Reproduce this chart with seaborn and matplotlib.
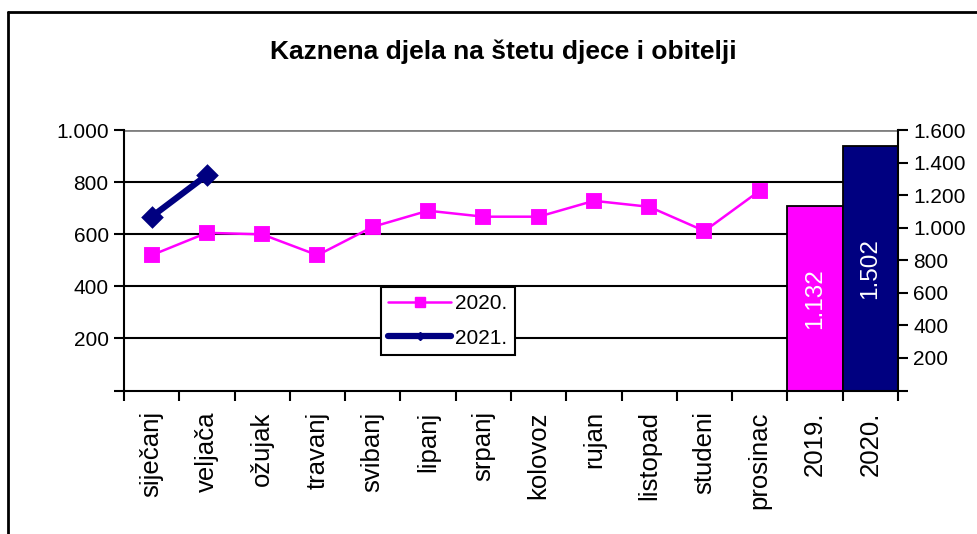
import matplotlib
matplotlib.use("Agg")
import matplotlib.pyplot as plt
import seaborn as sns
import pandas as pd
import numpy as np
from matplotlib.lines import Line2D
from matplotlib.ticker import FuncFormatter

categories = ["siječanj", "veljača", "ožujak", "travanj", "svibanj", "lipanj",
              "srpanj", "kolovoz", "rujan", "listopad", "studeni", "prosinac",
              "2019.", "2020."]
months_2020 = categories[:12]
values_2020 = [520, 606, 600, 520, 629, 691, 668, 668, 729, 706, 613, 768]
months_2021 = ["siječanj", "veljača"]
values_2021 = [668, 828]
bar_years = ["2019.", "2020."]
bar_values = [1132, 1502]
bar_labels = ["1.132", "1.502"]
left_ticks = [0, 200, 400, 600, 800, 1000]
right_ticks = [0, 200, 400, 600, 800, 1000, 1200, 1400, 1600]

PINK = "#FF00FF"
NAVY = "#000080"

sns.set_theme(style="white")
plt.rcParams['font.family'] = ['Liberation Sans', 'DejaVu Sans']
plt.rcParams['text.color'] = 'black'
plt.rcParams['xtick.color'] = 'black'
plt.rcParams['ytick.color'] = 'black'
plt.rcParams['axes.labelcolor'] = 'black'

W, H = 978, 534
fig = plt.figure(figsize=(W / 100, H / 100), dpi=100)
ax = fig.add_axes([124 / W, 1 - 390.5 / H, (898 - 124) / W, (390.5 - 130.3) / H])
ax2 = ax.twinx()

df20 = pd.DataFrame({"month": months_2020, "value": values_2020})
df21 = pd.DataFrame({"month": months_2021, "value": values_2021})
dfb = pd.DataFrame({"year": bar_years, "value": bar_values})

# bars on the secondary axis
sns.barplot(data=dfb, x="year", y="value", order=categories, hue="year",
            palette=[PINK, NAVY], saturation=1, width=1.0, edgecolor="black",
            linewidth=1.3, legend=False, ax=ax2)
for p, lab in zip([pp for pp in ax2.patches if pp.get_height() > 0], bar_labels):
    ax2.text(p.get_x() + p.get_width() / 2, p.get_height() / 2, lab,
             rotation=90, ha="center", va="center", color="white", fontsize=17.5)

# lines on the primary axis
sns.pointplot(data=df20, x="month", y="value", order=categories, color=PINK,
              markers="s", markersize=9.5, linewidth=1.8, ax=ax)
sns.pointplot(data=df21, x="month", y="value", order=categories, color=NAVY,
              markers="D", markersize=8.5, linewidth=4.5, ax=ax)

ax.set_zorder(ax2.get_zorder() + 1)
ax.patch.set_visible(False)

# axes limits & ticks
ax.set_xlim(-0.5, len(categories) - 0.5)
ax.set_ylim(0, 1000)
ax2.set_ylim(0, 1600)

fmt = FuncFormatter(lambda v, pos: "" if v == 0 else f"{int(v):,}".replace(",", "."))
ax.set_yticks(left_ticks)
ax.yaxis.set_major_formatter(fmt)
ax2.set_yticks(right_ticks)
ax2.yaxis.set_major_formatter(fmt)

ax.set_xticks(np.arange(len(categories)))
ax.set_xticklabels(categories, rotation=90, fontsize=18.5, color="black")
ax.set_xticks(np.arange(len(categories) + 1) - 0.5, minor=True)
ax.tick_params(axis="x", which="major", length=0, pad=15)
ax.tick_params(axis="x", which="minor", length=7, width=1.5, color="black", direction="out", bottom=True)
ax.tick_params(axis="y", length=7, width=1.5, color="black", labelcolor="black", direction="out", labelsize=15, left=True, pad=4)
ax2.tick_params(axis="y", length=7, width=1.5, color="black", labelcolor="black", direction="out", labelsize=15, right=True, pad=4)
ax.set_xlabel("")
ax.set_ylabel("")
ax2.set_xlabel("")
ax2.set_ylabel("")

# grid lines
for v in left_ticks[1:-1]:
    ax2.axhline(v * 1.6, color="black", linewidth=1.5, zorder=0)
ax2.axhline(1600, color="#808080", linewidth=2, zorder=0)

for a in (ax, ax2):
    a.spines["top"].set_visible(False)
    for s in ["left", "bottom", "right"]:
        a.spines[s].set_color("black")
        a.spines[s].set_linewidth(1.5)
ax.spines["right"].set_visible(False)
ax2.spines["left"].set_visible(False)
ax2.spines["bottom"].set_visible(False)

# legend
handles = [Line2D([0], [0], color=PINK, marker="s", markersize=7, linewidth=1.8),
           Line2D([0], [0], color=NAVY, marker="D", markersize=4, linewidth=4.5)]
leg = ax.legend(handles, ["2020.", "2021."], loc="upper left",
                bbox_to_anchor=((381 - 124) / (898 - 124), (391 - 287) / 261),
                frameon=True, fancybox=False, edgecolor="black", framealpha=1,
                fontsize=15, handlelength=3.0, handletextpad=0.2, borderpad=0.35,
                labelspacing=0.75, borderaxespad=0)
leg.get_frame().set_linewidth(1.5)
for t in leg.get_texts():
    t.set_color("black")

fig.suptitle("Kaznena djela na štetu djece i obitelji", x=0.515, y=1 - 52 / H,
             va="center", fontsize=19, fontweight="bold", color="black")

# outer frame (top and left edges visible)
fig.add_artist(Line2D([8 / W, 8 / W], [0, 1 - 12 / H], transform=fig.transFigure,
                      color="black", linewidth=2))
fig.add_artist(Line2D([8 / W, 1], [1 - 12 / H, 1 - 12 / H], transform=fig.transFigure,
                      color="black", linewidth=2))

fig.savefig("out.png", dpi=100)
